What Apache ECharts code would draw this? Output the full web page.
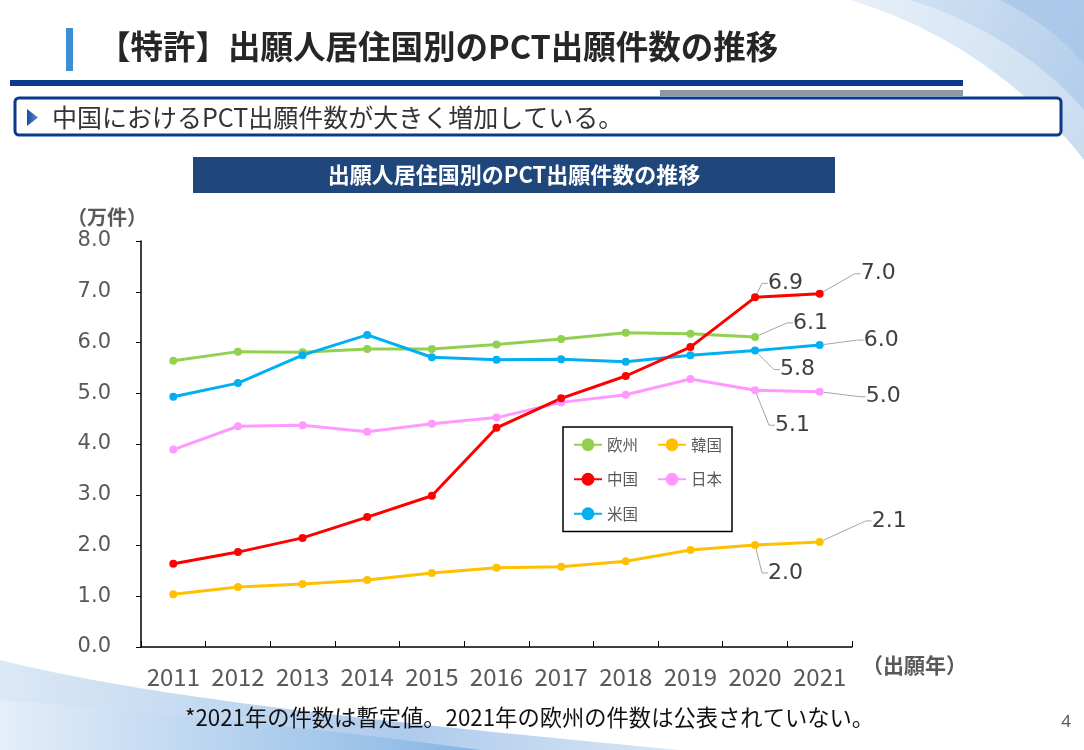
<!DOCTYPE html>
<html>
<head>
<meta charset="utf-8">
<title>出願人居住国別のPCT出願件数の推移</title>
<script src="https://cdn.jsdelivr.net/npm/echarts@6/dist/echarts.min.js"></script>
<style>
  html, body { margin: 0; padding: 0; background: #fff; }
  #chart { width: 1084px; height: 750px; }
</style>
</head>
<body>
<div id="chart"></div>
<script>
// 出願年
var years = ['2011', '2012', '2013', '2014', '2015', '2016', '2017', '2018', '2019', '2020', '2021'];
// 各国・地域の件数（万件）
var europe = [5.64, 5.82, 5.81, 5.87, 5.87, 5.96, 6.07, 6.19, 6.17, 6.11, null];
var korea  = [1.04, 1.18, 1.24, 1.32, 1.46, 1.56, 1.58, 1.69, 1.91, 2.01, 2.07];
var china  = [1.64, 1.87, 2.15, 2.56, 2.98, 4.32, 4.90, 5.34, 5.91, 6.89, 6.96];
var japan  = [3.89, 4.35, 4.37, 4.24, 4.40, 4.52, 4.82, 4.97, 5.28, 5.06, 5.03];
var usa    = [4.93, 5.20, 5.75, 6.15, 5.71, 5.66, 5.67, 5.62, 5.75, 5.84, 5.95];
// ラベル表示する点の値
var labelTexts = {
  '欧州': { 9: '6.1' },
  '韓国': { 9: '2.0', 10: '2.1' },
  '中国': { 9: '6.9', 10: '7.0' },
  '日本': { 9: '5.1', 10: '5.0' },
  '米国': { 9: '5.8', 10: '6.0' }
};
var yTicks = [0, 1, 2, 3, 4, 5, 6, 7, 8];

// ラベルのずらし量
var labelOffsets = {
  '欧州': { 9: [29, -14] },
  '韓国': { 9: [4, 28], 10: [43, -21] },
  '中国': { 9: [4, -14], 10: [32, -20] },
  '日本': { 9: [11, 35], 10: [37, 5] },
  '米国': { 9: [16, 19], 10: [35, -5] }
};

var jp = '"Noto Sans CJK JP", sans-serif';

function buildData(name, values) {
  return values.map(function (v, i) {
    var txt = labelTexts[name][i];
    if (txt === undefined || v === null) return v;
    return {
      value: v,
      label: { show: true, formatter: txt },
      labelLine: { show: true }
    };
  });
}

function makeSeries(name, values, color) {
  return {
    name: name,
    type: 'line',
    data: buildData(name, values),
    symbol: 'circle',
    symbolSize: 8,
    showAllSymbol: true,
    connectNulls: false,
    lineStyle: { color: color, width: 3 },
    itemStyle: { color: color },
    label: {
      show: false,
      position: 'right',
      distance: 5,
      fontFamily: '"DejaVu Sans", sans-serif',
      fontSize: 22,
      color: '#404040'
    },
    labelLine: {
      show: false,
      length2: 6,
      lineStyle: { color: '#a6a6a6', width: 1 }
    },
    labelLayout: function (params) {
      var off = (labelOffsets[name] || {})[params.dataIndex];
      if (!off) return {};
      return { dx: off[0], dy: off[1] };
    },
    animation: false
  };
}

// 飾り用：3次ベジェ曲線を点列にする
function curve(p0, p1, p2, p3, extra) {
  var pts = [];
  for (var i = 0; i <= 40; i++) {
    var t = i / 40, u = 1 - t;
    pts.push([
      u * u * u * p0[0] + 3 * u * u * t * p1[0] + 3 * u * t * t * p2[0] + t * t * t * p3[0],
      u * u * u * p0[1] + 3 * u * u * t * p1[1] + 3 * u * t * t * p2[1] + t * t * t * p3[1]
    ]);
  }
  return pts.concat(extra);
}

var chart = echarts.init(document.getElementById('chart'));

chart.setOption({
  backgroundColor: '#fff',
  animation: false,
  title: {
    text: '【特許】出願人居住国別のPCT出願件数の推移',
    left: 93,
    top: 25,
    textStyle: { fontFamily: jp, fontSize: 32.5, fontWeight: 'bold', color: '#262626' }
  },
  grid: { left: 141, right: 232, top: 241, bottom: 103 },
  legend: {
    data: ['欧州', '韓国', '中国', '日本', '米国'],
    left: 563,
    top: 427,
    width: 150,
    padding: [10, 10, 10, 10],
    itemWidth: 28,
    itemHeight: 16,
    itemGap: 19,
    backgroundColor: '#fff',
    borderColor: '#000',
    borderWidth: 1.5,
    textStyle: { fontFamily: jp, fontSize: 15.5, color: '#595959' }
  },
  xAxis: {
    type: 'category',
    data: years,
    boundaryGap: true,
    name: '（出願年）',
    nameLocation: 'end',
    nameGap: 10,
    nameTextStyle: {
      fontFamily: jp, fontSize: 21, fontWeight: 'bold', color: '#595959',
      verticalAlign: 'top', padding: [8, 0, 0, 0]
    },
    axisLine: { lineStyle: { color: '#000', width: 1.5 } },
    axisTick: { show: true, inside: true, interval: 0, length: 6, lineStyle: { color: '#000', width: 1 } },
    axisLabel: { interval: 0, margin: 18, fontFamily: jp, fontSize: 24, color: '#595959' },
    splitLine: { show: false }
  },
  yAxis: {
    type: 'value',
    min: yTicks[0],
    max: yTicks[yTicks.length - 1],
    interval: 1,
    name: '（万件）',
    nameLocation: 'end',
    nameGap: 24,
    nameTextStyle: {
      fontFamily: jp, fontSize: 20, fontWeight: 'bold', color: '#595959',
      align: 'right', verticalAlign: 'middle', padding: [0, -6, 0, 0]
    },
    axisLine: { show: true, lineStyle: { color: '#000', width: 1.5 } },
    axisTick: { show: true, length: 5, lineStyle: { color: '#000', width: 1 } },
    axisLabel: {
      margin: 30,
      fontFamily: '"DejaVu Sans", sans-serif',
      fontSize: 21,
      color: '#595959',
      formatter: function (v) { return v.toFixed(1); }
    },
    splitLine: { show: false }
  },
  series: [
    makeSeries('欧州', europe, '#92d050'),
    makeSeries('韓国', korea, '#ffc000'),
    makeSeries('米国', usa, '#00b0f0'),
    makeSeries('日本', japan, '#ff99ff'),
    makeSeries('中国', china, '#ff0000')
  ],
  graphic: [
    // 右上の飾り
    {
      type: 'polygon', z: -10, silent: true,
      shape: { points: curve([850, 0], [950, 30], [1030, 90], [1084, 160], [[1084, 0]]) },
      style: {
        fill: new echarts.graphic.LinearGradient(0, 0, 1, 1, [
          { offset: 0, color: '#e6eff9' }, { offset: 1, color: '#c9dcf0' }
        ])
      }
    },
    {
      type: 'polygon', z: -9, silent: true,
      shape: { points: curve([910, 0], [990, 25], [1050, 70], [1084, 110], [[1084, 0]]) },
      style: {
        fill: new echarts.graphic.LinearGradient(0, 0, 1, 1, [
          { offset: 0, color: '#cfe0f3' }, { offset: 1, color: '#b3cdea' }
        ])
      }
    },
    {
      type: 'polygon', z: -8, silent: true,
      shape: { points: curve([1000, 0], [1040, 20], [1070, 45], [1084, 65], [[1084, 0]]) },
      style: { fill: '#a9c6e8', opacity: 0.8 }
    },
    // 左下の飾り
    {
      type: 'polygon', z: -10, silent: true,
      shape: { points: curve([0, 660], [120, 690], [300, 715], [680, 750], [[0, 750]]) },
      style: {
        fill: new echarts.graphic.LinearGradient(0, 0, 1, 0, [
          { offset: 0, color: '#dbe8f6' }, { offset: 0.6, color: '#aecbed' }, { offset: 1, color: '#d8e6f5' }
        ])
      }
    },
    {
      type: 'polygon', z: -9, silent: true,
      shape: { points: curve([0, 700], [150, 712], [320, 728], [480, 750], [[0, 750]]) },
      style: {
        fill: new echarts.graphic.LinearGradient(0, 0, 1, 0, [
          { offset: 0, color: '#e4eef9' }, { offset: 1, color: '#86b5e4' }
        ])
      }
    },
    // タイトル左の縦線
    { type: 'rect', shape: { x: 66, y: 28, width: 7, height: 43 }, style: { fill: '#3d8fd1' } },
    // 区切り線
    { type: 'rect', shape: { x: 10, y: 80, width: 953, height: 6 }, style: { fill: '#0b3a8c' } },
    { type: 'rect', shape: { x: 660, y: 90, width: 303, height: 6 }, style: { fill: '#8e999f' } },
    // サブタイトル枠
    {
      type: 'rect',
      shape: { x: 15, y: 98, width: 1046, height: 37, r: 4 },
      style: { fill: '#fff', stroke: '#0b3a8c', lineWidth: 3 }
    },
    {
      type: 'polygon',
      shape: { points: [[27, 109], [38, 117.5], [27, 126]] },
      style: {
        fill: new echarts.graphic.LinearGradient(0, 0, 1, 0, [
          { offset: 0, color: '#1d4c9a' }, { offset: 1, color: '#5a8bd0' }
        ])
      }
    },
    {
      type: 'text', x: 52, y: 117,
      style: {
        text: '中国におけるPCT出願件数が大きく増加している。',
        font: '25px "Noto Sans CJK JP"',
        fill: '#333', verticalAlign: 'middle'
      }
    },
    // グラフタイトル
    { type: 'rect', shape: { x: 193, y: 157, width: 642, height: 36 }, style: { fill: '#1f477b' } },
    {
      type: 'text', x: 514, y: 175,
      style: {
        text: '出願人居住国別のPCT出願件数の推移',
        font: 'bold 22px "Noto Sans CJK JP"',
        fill: '#fff', align: 'center', verticalAlign: 'middle'
      }
    },
    // 注記
    {
      type: 'text', x: 185, y: 718,
      style: {
        text: '*2021年の件数は暫定値。2021年の欧州の件数は公表されていない。',
        font: '22.3px "Noto Sans CJK JP"',
        fill: '#111', verticalAlign: 'middle'
      }
    },
    {
      type: 'text', x: 1066, y: 722,
      style: { text: '4', font: '17px "Noto Sans"', fill: '#595959', align: 'center', verticalAlign: 'middle' }
    }
  ]
});
</script>
</body>
</html>
